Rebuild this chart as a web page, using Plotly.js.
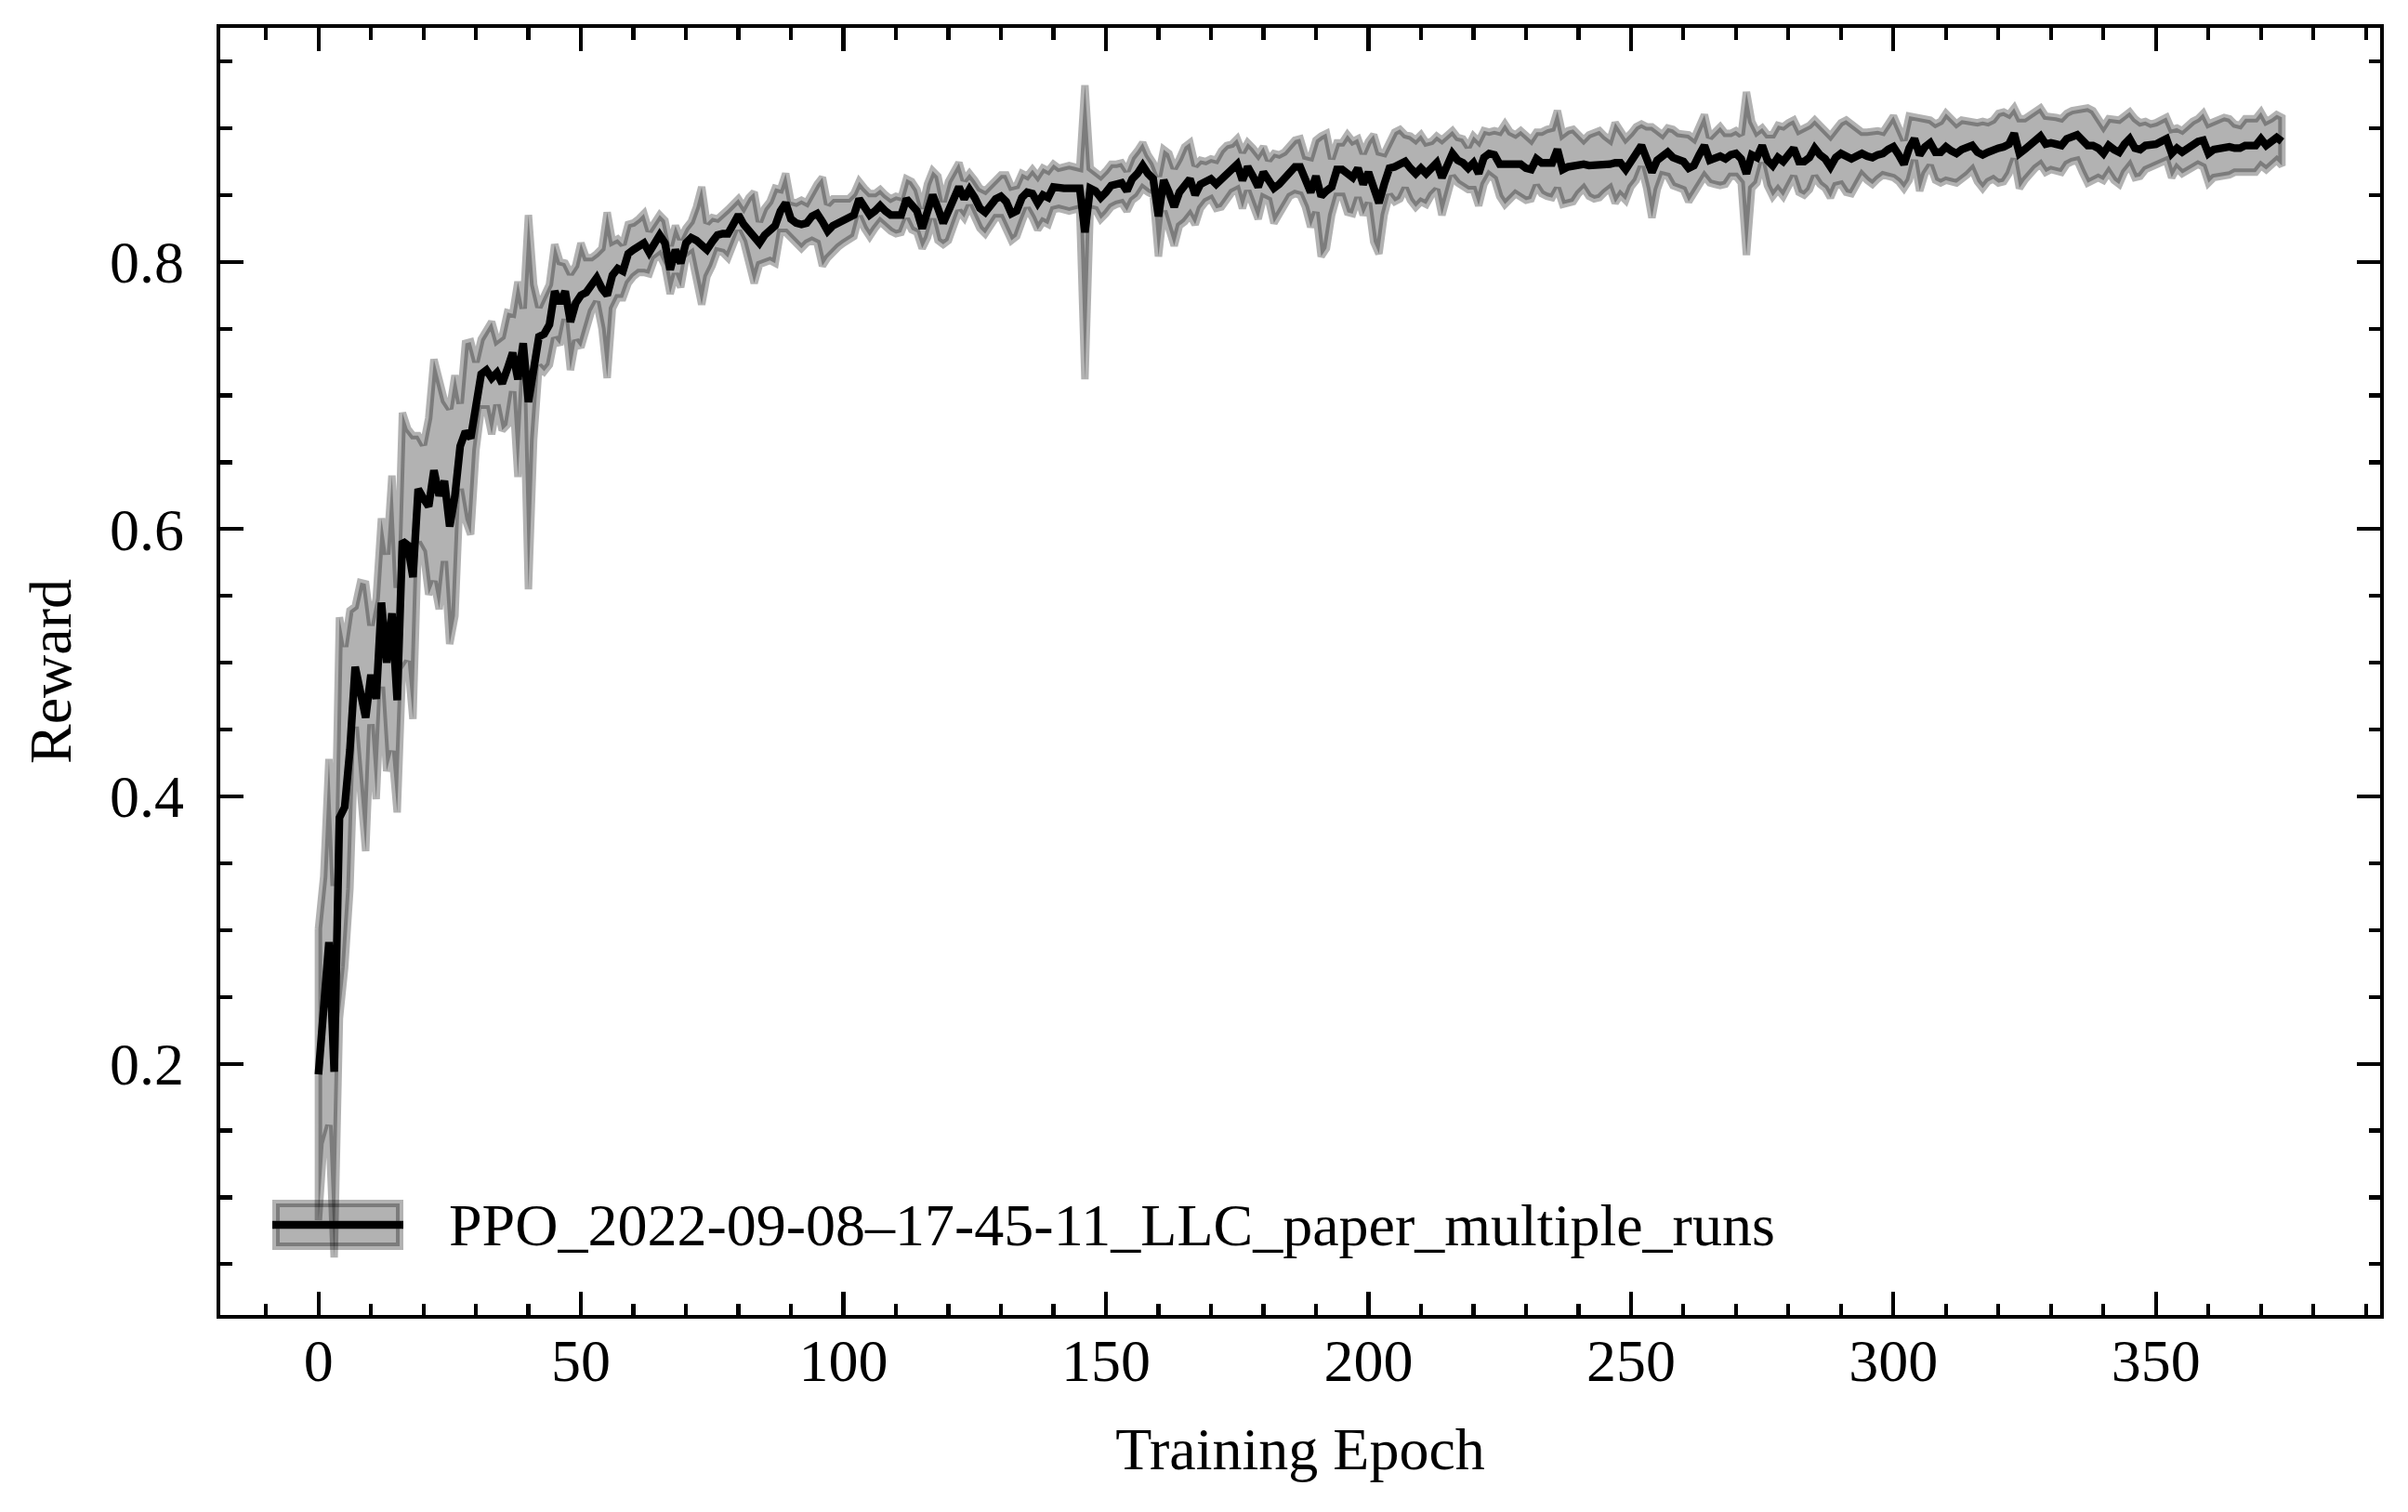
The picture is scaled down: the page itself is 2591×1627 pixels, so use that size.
<!DOCTYPE html>
<html>
<head>
<meta charset="utf-8">
<script src="https://cdn.plot.ly/plotly-3.0.1.min.js"></script>
<style>
  html, body { margin: 0; padding: 0; background: #fff; }
  #chart { width: 2591px; height: 1627px; }
</style>
</head>
<body>
<div id="chart"></div>
<script>
// Mean reward per training epoch (epochs 0..374)
const meanReward = [
  0.192,0.240,0.291,0.194,0.384,0.392,0.435,0.497,0.480,0.459,
  0.491,0.473,0.545,0.500,0.537,0.472,0.591,0.588,0.564,0.630,
  0.623,0.617,0.644,0.625,0.636,0.602,0.625,0.662,0.673,0.668,
  0.692,0.716,0.719,0.713,0.717,0.709,0.720,0.732,0.712,0.739,
  0.695,0.725,0.744,0.746,0.753,0.778,0.769,0.778,0.755,0.769,
  0.775,0.777,0.783,0.788,0.780,0.775,0.790,0.795,0.793,0.806,
  0.809,0.812,0.814,0.807,0.815,0.820,0.814,0.794,0.809,0.799,
  0.814,0.818,0.816,0.812,0.809,0.815,0.820,0.821,0.821,0.828,
  0.835,0.828,0.824,0.818,0.814,0.820,0.823,0.827,0.838,0.844,
  0.832,0.829,0.828,0.829,0.834,0.836,0.830,0.823,0.827,0.829,
  0.830,0.832,0.835,0.847,0.840,0.835,0.838,0.842,0.838,0.835,
  0.835,0.835,0.847,0.842,0.838,0.825,0.838,0.850,0.840,0.829,
  0.838,0.847,0.856,0.847,0.854,0.848,0.840,0.837,0.842,0.847,
  0.849,0.845,0.836,0.838,0.848,0.852,0.851,0.844,0.850,0.848,
  0.856,0.855,0.855,0.855,0.855,0.855,0.822,0.855,0.853,0.848,
  0.852,0.857,0.858,0.859,0.853,0.862,0.866,0.872,0.866,0.862,
  0.834,0.861,0.852,0.841,0.852,0.858,0.862,0.850,0.858,0.860,
  0.862,0.858,0.862,0.867,0.870,0.873,0.861,0.871,0.864,0.856,
  0.867,0.861,0.855,0.858,0.862,0.868,0.871,0.871,0.860,0.852,
  0.864,0.849,0.853,0.856,0.869,0.869,0.866,0.863,0.870,0.858,
  0.867,0.855,0.844,0.858,0.870,0.871,0.873,0.875,0.870,0.866,
  0.870,0.866,0.870,0.874,0.863,0.872,0.881,0.876,0.874,0.870,
  0.874,0.866,0.878,0.881,0.880,0.873,0.873,0.872,0.873,0.873,
  0.870,0.869,0.877,0.874,0.874,0.874,0.884,0.869,0.871,0.872,
  0.873,0.873,0.872,0.872,0.873,0.873,0.873,0.874,0.874,0.869,
  0.876,0.881,0.887,0.878,0.867,0.876,0.880,0.882,0.878,0.876,
  0.875,0.870,0.872,0.880,0.887,0.876,0.878,0.879,0.877,0.880,
  0.881,0.877,0.866,0.880,0.878,0.887,0.876,0.872,0.878,0.875,
  0.880,0.885,0.875,0.875,0.878,0.885,0.880,0.877,0.871,0.878,
  0.881,0.879,0.877,0.879,0.881,0.879,0.878,0.880,0.881,0.884,
  0.886,0.880,0.873,0.885,0.892,0.880,0.886,0.889,0.882,0.882,
  0.886,0.883,0.881,0.884,0.885,0.887,0.882,0.880,0.882,0.884,
  0.885,0.886,0.888,0.896,0.881,0.884,0.888,0.891,0.894,0.888,
  0.889,0.888,0.887,0.892,0.894,0.895,0.891,0.887,0.887,0.885,
  0.881,0.887,0.884,0.882,0.888,0.892,0.885,0.884,0.887,0.887,
  0.888,0.890,0.892,0.881,0.885,0.882,0.885,0.888,0.890,0.891,
  0.881,0.884,0.885,0.886,0.886,0.885,0.885,0.887,0.887,0.887,
  0.892,0.887,0.890,0.893,0.890
];

// Standard deviation of the reward across runs, per epoch
const stdReward = [
  0.109,0.100,0.137,0.139,0.150,0.120,0.104,0.045,0.080,0.100,
  0.037,0.075,0.063,0.081,0.103,0.084,0.096,0.087,0.106,0.040,
  0.040,0.066,0.083,0.085,0.060,0.088,0.090,0.032,0.066,0.072,
  0.033,0.026,0.029,0.042,0.024,0.035,0.042,0.029,0.073,0.026,
  0.140,0.058,0.022,0.028,0.030,0.035,0.031,0.021,0.036,0.028,
  0.039,0.026,0.020,0.018,0.030,0.062,0.025,0.022,0.020,0.022,
  0.020,0.020,0.022,0.016,0.013,0.015,0.017,0.018,0.018,0.018,
  0.011,0.012,0.025,0.044,0.020,0.018,0.012,0.014,0.018,0.015,
  0.012,0.013,0.024,0.034,0.016,0.020,0.022,0.028,0.016,0.022,
  0.013,0.015,0.018,0.015,0.018,0.022,0.033,0.020,0.020,0.018,
  0.016,0.015,0.016,0.013,0.015,0.016,0.013,0.012,0.012,0.012,
  0.014,0.013,0.015,0.018,0.016,0.015,0.020,0.018,0.024,0.016,
  0.022,0.020,0.018,0.014,0.012,0.013,0.015,0.016,0.016,0.014,
  0.016,0.020,0.020,0.019,0.018,0.012,0.018,0.020,0.020,0.020,
  0.017,0.015,0.016,0.017,0.016,0.015,0.110,0.015,0.014,0.016,
  0.016,0.016,0.015,0.015,0.015,0.016,0.017,0.017,0.014,0.012,
  0.030,0.023,0.029,0.029,0.025,0.028,0.027,0.022,0.018,0.015,
  0.015,0.018,0.021,0.020,0.018,0.019,0.021,0.018,0.021,0.024,
  0.019,0.015,0.026,0.022,0.020,0.019,0.020,0.021,0.019,0.026,
  0.027,0.045,0.043,0.021,0.020,0.020,0.029,0.027,0.022,0.023,
  0.023,0.040,0.038,0.023,0.020,0.026,0.026,0.020,0.024,0.025,
  0.025,0.023,0.020,0.020,0.028,0.022,0.017,0.017,0.018,0.016,
  0.020,0.024,0.020,0.016,0.018,0.024,0.030,0.025,0.022,0.025,
  0.024,0.022,0.020,0.023,0.025,0.026,0.029,0.026,0.027,0.027,
  0.022,0.018,0.023,0.025,0.025,0.021,0.018,0.030,0.024,0.023,
  0.020,0.020,0.016,0.023,0.034,0.022,0.015,0.018,0.021,0.020,
  0.021,0.025,0.020,0.022,0.023,0.017,0.020,0.022,0.019,0.016,
  0.017,0.018,0.061,0.025,0.019,0.013,0.019,0.023,0.024,0.026,
  0.024,0.021,0.023,0.025,0.024,0.021,0.022,0.022,0.023,0.021,
  0.023,0.027,0.026,0.021,0.016,0.018,0.020,0.018,0.016,0.020,
  0.023,0.020,0.018,0.024,0.016,0.027,0.020,0.017,0.021,0.023,
  0.025,0.023,0.022,0.022,0.020,0.018,0.022,0.025,0.022,0.022,
  0.026,0.026,0.022,0.019,0.026,0.023,0.022,0.021,0.021,0.021,
  0.020,0.020,0.020,0.019,0.019,0.019,0.024,0.028,0.026,0.022,
  0.020,0.020,0.023,0.024,0.021,0.020,0.022,0.020,0.018,0.016,
  0.016,0.016,0.016,0.018,0.015,0.016,0.017,0.017,0.017,0.020,
  0.022,0.021,0.021,0.022,0.021,0.018,0.017,0.020,0.020,0.020,
  0.020,0.018,0.017,0.017,0.018
];

const runLabel = "PPO_2022-09-08\u201317-45-11_LLC_paper_multiple_runs";
const xTitle = "Training Epoch";
const yTitle = "Reward";

// Epoch index for each entry
const epochs = meanReward.map((_, i) => i);
const upper = meanReward.map((m, i) => m + stdReward[i]);
const lower = meanReward.map((m, i) => m - stdReward[i]);

// Closed polygon for the mean ± std band
const bandX = epochs.concat(epochs.slice().reverse(), [epochs[0]]);
const bandY = upper.concat(lower.slice().reverse(), [upper[0]]);

// Figure geometry (pixels)
const W = 2591, H = 1627;
const L = 237, R = 2561, T = 30, B = 1415;
const px = v => (v - L) / (R - L);
const py = v => (B - v) / (B - T);

const FONT = "Liberation Serif, Times New Roman, serif";
const FS = 64;
const LW = 4.2;

const band = {
  x: bandX, y: bandY,
  type: "scatter", mode: "lines",
  fill: "toself",
  fillcolor: "rgba(0,0,0,0.3)",
  line: { color: "rgba(0,0,0,0.3)", width: 8 },
  hoverinfo: "skip",
  showlegend: false
};

const meanLine = {
  x: epochs, y: meanReward,
  type: "scatter", mode: "lines",
  line: { color: "#000", width: 8.3 },
  name: runLabel,
  showlegend: false
};

const axisCommon = {
  showline: true, linecolor: "#000", linewidth: LW,
  mirror: "ticks",
  ticks: "inside", ticklen: 25, tickwidth: LW, tickcolor: "#000",
  showgrid: false, zeroline: false,
  tickfont: { family: FONT, size: FS, color: "#000" }
};

const layout = {
  width: W, height: H,
  paper_bgcolor: "#fff", plot_bgcolor: "#fff",
  font: { family: FONT, size: FS, color: "#000" },
  margin: { l: L, r: W - R, t: T, b: H - B, pad: 0 },
  showlegend: false,
  xaxis: Object.assign({}, axisCommon, {
    range: [-18.7, 392.7],
    tick0: 0, dtick: 50,
    ticklabelstandoff: -10,
    minor: { ticks: "inside", ticklen: 12.5, tickwidth: LW, tickcolor: "#000", dtick: 10, tick0: 0, showgrid: false },
    title: { text: xTitle, font: { family: FONT, size: FS, color: "#000" }, standoff: 38 }
  }),
  yaxis: Object.assign({}, axisCommon, {
    range: [0.012, 0.975],
    tick0: 0, dtick: 0.2, tickformat: ".1f",
    ticklabelstandoff: 22,
    minor: { ticks: "inside", ticklen: 12.5, tickwidth: LW, tickcolor: "#000", dtick: 0.05, tick0: 0, showgrid: false },
    title: { text: yTitle, font: { family: FONT, size: FS, color: "#000" }, standoff: 22 }
  }),
  shapes: [
    // legend swatch: shaded band patch with the mean line across it
    { type: "rect", xref: "paper", yref: "paper",
      x0: px(297), x1: px(430), y0: py(1341), y1: py(1295),
      fillcolor: "rgba(0,0,0,0.3)", line: { color: "rgba(0,0,0,0.3)", width: 8 } },
    { type: "line", xref: "paper", yref: "paper",
      x0: px(293), x1: px(434), y0: py(1318), y1: py(1318),
      line: { color: "#000", width: 8.3 } }
  ],
  annotations: [
    { xref: "paper", yref: "paper", x: px(481), y: py(1318),
      xanchor: "left", yanchor: "middle", showarrow: false,
      text: runLabel, font: { family: FONT, size: FS, color: "#000" } }
  ]
};

Plotly.newPlot("chart", [band, meanLine], layout, { displayModeBar: false, staticPlot: true });
</script>
</body>
</html>
